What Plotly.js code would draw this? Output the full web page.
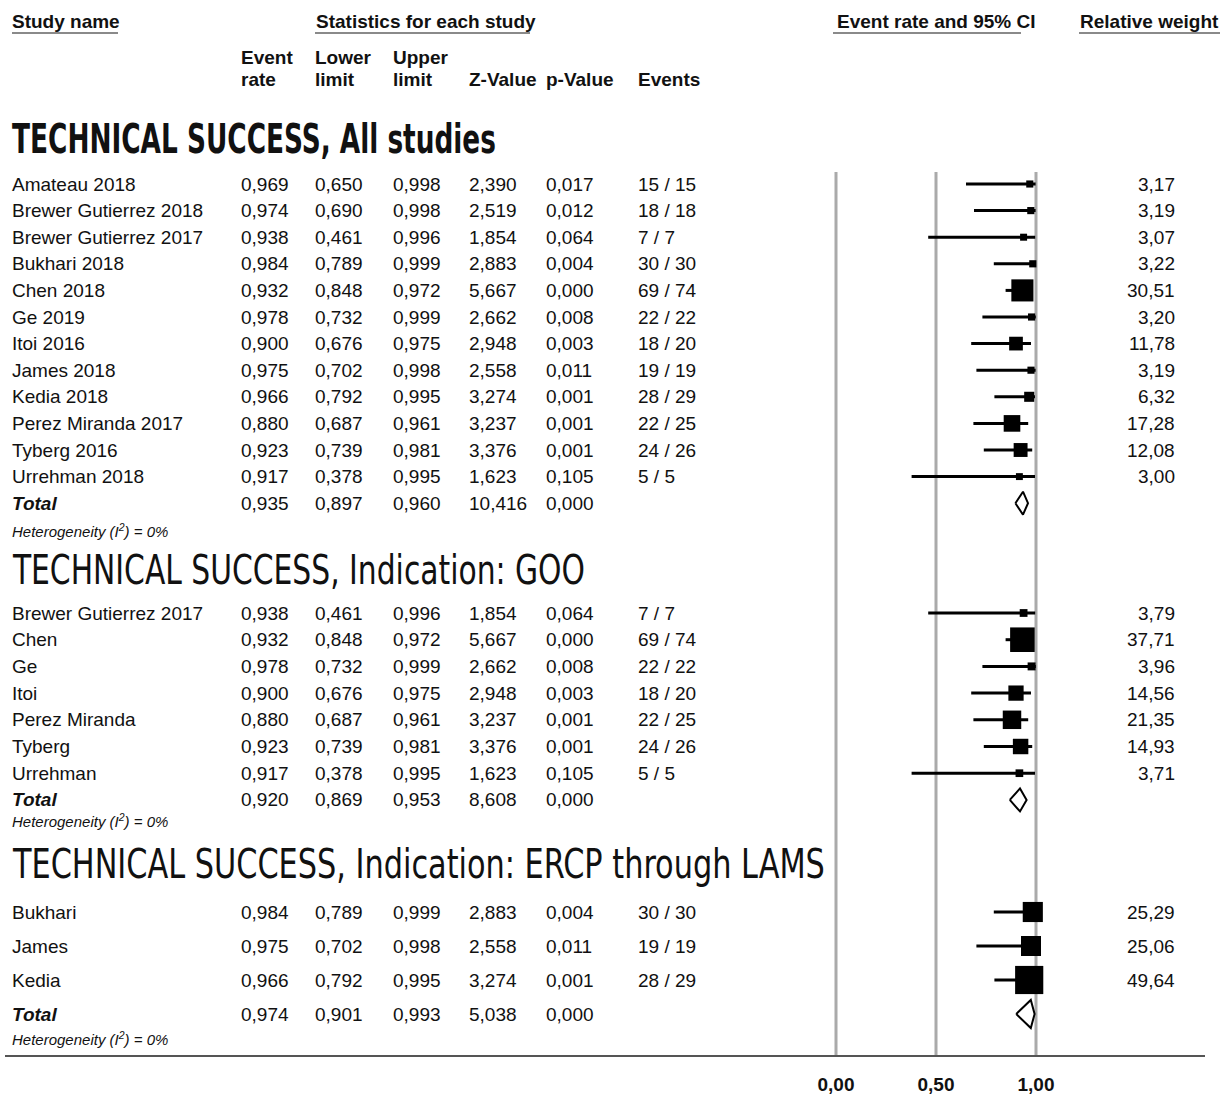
<!DOCTYPE html>
<html>
<head>
<meta charset="utf-8">
<script src="https://cdn.plot.ly/plotly-3.0.1.min.js"></script>
<style>html,body{margin:0;padding:0;background:#fff;}#chart{width:1223px;height:1096px;}</style>
</head>
<body>
<div id="chart"></div>
<script>
// ---------------- DATA ----------------
const sectionTitles = [
  "TECHNICAL SUCCESS, All studies",
  "TECHNICAL SUCCESS, Indication: GOO",
  "TECHNICAL SUCCESS, Indication: ERCP through LAMS"
];

const s1Names = ["Amateau 2018","Brewer Gutierrez 2018","Brewer Gutierrez 2017","Bukhari 2018","Chen 2018","Ge 2019","Itoi 2016","James 2018","Kedia 2018","Perez Miranda 2017","Tyberg 2016","Urrehman 2018"];
const s1Rate   = [0.969,0.974,0.938,0.984,0.932,0.978,0.900,0.975,0.966,0.880,0.923,0.917];
const s1Lower  = [0.650,0.690,0.461,0.789,0.848,0.732,0.676,0.702,0.792,0.687,0.739,0.378];
const s1Upper  = [0.998,0.998,0.996,0.999,0.972,0.999,0.975,0.998,0.995,0.961,0.981,0.995];
const s1Z      = [2.390,2.519,1.854,2.883,5.667,2.662,2.948,2.558,3.274,3.237,3.376,1.623];
const s1P      = [0.017,0.012,0.064,0.004,0.000,0.008,0.003,0.011,0.001,0.001,0.001,0.105];
const s1Events = ["15 / 15","18 / 18","7 / 7","30 / 30","69 / 74","22 / 22","18 / 20","19 / 19","28 / 29","22 / 25","24 / 26","5 / 5"];
const s1Weight = [3.17,3.19,3.07,3.22,30.51,3.20,11.78,3.19,6.32,17.28,12.08,3.00];

const s2Names = ["Brewer Gutierrez 2017","Chen","Ge","Itoi","Perez Miranda","Tyberg","Urrehman"];
const s2Rate   = [0.938,0.932,0.978,0.900,0.880,0.923,0.917];
const s2Lower  = [0.461,0.848,0.732,0.676,0.687,0.739,0.378];
const s2Upper  = [0.996,0.972,0.999,0.975,0.961,0.981,0.995];
const s2Z      = [1.854,5.667,2.662,2.948,3.237,3.376,1.623];
const s2P      = [0.064,0.000,0.008,0.003,0.001,0.001,0.105];
const s2Events = ["7 / 7","69 / 74","22 / 22","18 / 20","22 / 25","24 / 26","5 / 5"];
const s2Weight = [3.79,37.71,3.96,14.56,21.35,14.93,3.71];

const s3Names = ["Bukhari","James","Kedia"];
const s3Rate   = [0.984,0.975,0.966];
const s3Lower  = [0.789,0.702,0.792];
const s3Upper  = [0.999,0.998,0.995];
const s3Z      = [2.883,2.558,3.274];
const s3P      = [0.004,0.011,0.001];
const s3Events = ["30 / 30","19 / 19","28 / 29"];
const s3Weight = [25.29,25.06,49.64];

const totalRate  = [0.935,0.920,0.974];
const totalLower = [0.897,0.869,0.901];
const totalUpper = [0.960,0.953,0.993];
const totalZ     = [10.416,8.608,5.038];
const totalP     = [0.000,0.000,0.000];
const heterogeneity = ["0%","0%","0%"];

const tickValues = [0, 0.5, 1];
const tickLabels = ["0,00","0,50","1,00"];

// ---------------- LAYOUT GEOMETRY ----------------
const W = 1223, H = 1096, PLOT_BOTTOM = 1055;
const FONT = "Liberation Sans, Arial, Helvetica, sans-serif";
const TITLE_FONT = "DejaVu Sans Condensed, DejaVu Sans, sans-serif";

const sections = [
  {names:s1Names, rate:s1Rate, lo:s1Lower, up:s1Upper, z:s1Z, p:s1P, ev:s1Events, w:s1Weight,
   titleY:139, titleBold:true, titleWidth:484, start:184, step:26.6, hetGap:27, diamondH:11.5},
  {names:s2Names, rate:s2Rate, lo:s2Lower, up:s2Upper, z:s2Z, p:s2P, ev:s2Events, w:s2Weight,
   titleY:570, titleBold:false, titleWidth:573, start:613, step:26.7, hetGap:21, diamondH:11.5},
  {names:s3Names, rate:s3Rate, lo:s3Lower, up:s3Upper, z:s3Z, p:s3P, ev:s3Events, w:s3Weight,
   titleY:864, titleBold:false, titleWidth:813, start:912, step:34, hetGap:24, diamondH:14}
];

const COLS = {name:11, rate:240, lo:314, up:392, z:468, p:545, ev:637, weight:1176};

const fmt3 = v => v.toFixed(3).replace(".", ",");
const fmt2 = v => v.toFixed(2).replace(".", ",");

const annotations = [];
function txt(text, xp, yp, opt) {
  opt = opt || {};
  annotations.push({
    text: text, xref: "paper", x: xp / W, yref: "y", y: yp,
    xanchor: opt.anchor || "left", yanchor: "middle", showarrow: false,
    borderpad: 0,
    font: {family: opt.family || FONT, size: opt.size || 19, color: opt.color || "#111",
           weight: opt.weight || "normal", style: opt.style || "normal"}
  });
}

// Headers
txt("Study name", 11, 21, {weight: "bold"});
txt("Statistics for each study", 315, 21, {weight: "bold"});
txt("Event rate and 95% CI", 836, 21, {weight: "bold"});
txt("Relative weight", 1079, 21, {weight: "bold"});
txt("Event", COLS.rate, 57, {weight: "bold"});
txt("rate", COLS.rate, 79, {weight: "bold"});
txt("Lower", COLS.lo, 57, {weight: "bold"});
txt("limit", COLS.lo, 79, {weight: "bold"});
txt("Upper", COLS.up, 57, {weight: "bold"});
txt("limit", COLS.up, 79, {weight: "bold"});
txt("Z-Value", COLS.z, 79, {weight: "bold"});
txt("p-Value", COLS.p, 79, {weight: "bold"});
txt("Events", COLS.ev, 79, {weight: "bold"});

const shapes = [];
// header underlines
[[12,118],[315,530],[833,1021],[1079,1220]].forEach(function(seg){
  shapes.push({type:"line", xref:"paper", yref:"y", x0:seg[0]/W, x1:seg[1]/W, y0:33, y1:33,
               line:{color:"#8a8a8a", width:2}});
});
// reference lines at 0, 0.5, 1
tickValues.forEach(function(v){
  shapes.push({type:"line", xref:"x", yref:"y", x0:v, x1:v, y0:172, y1:PLOT_BOTTOM,
               line:{color:"#aaaaaa", width:3}, layer:"below"});
});

const traces = [];
sections.forEach(function(s, si){
  // title
  txt(sectionTitles[si], 11, s.titleY, {family: TITLE_FONT, size: 40,
      weight: s.titleBold ? "bold" : "normal", color: "#111"});
  const rows = s.names.map((_, i) => s.start + i * s.step);
  const totalY = s.start + s.names.length * s.step;
  // table rows
  s.names.forEach(function(n, i){
    const y = rows[i];
    txt(n, COLS.name, y);
    txt(fmt3(s.rate[i]), COLS.rate, y);
    txt(fmt3(s.lo[i]), COLS.lo, y);
    txt(fmt3(s.up[i]), COLS.up, y);
    txt(fmt3(s.z[i]), COLS.z, y);
    txt(fmt3(s.p[i]), COLS.p, y);
    txt(s.ev[i], COLS.ev, y);
    txt(fmt2(s.w[i]), COLS.weight, y, {anchor: "right"});
  });
  txt("<b><i>Total</i></b>", COLS.name, totalY);
  txt(fmt3(totalRate[si]), COLS.rate, totalY);
  txt(fmt3(totalLower[si]), COLS.lo, totalY);
  txt(fmt3(totalUpper[si]), COLS.up, totalY);
  txt(fmt3(totalZ[si]), COLS.z, totalY);
  txt(fmt3(totalP[si]), COLS.p, totalY);
  txt("<i>Heterogeneity (I<sup>2</sup>) = " + heterogeneity[si] + "</i>", COLS.name, totalY + s.hetGap,
      {size: 15});

  // CI lines
  const lx = [], ly = [];
  s.names.forEach(function(_, i){
    lx.push(s.lo[i], s.up[i], null);
    ly.push(rows[i], rows[i], null);
  });
  traces.push({type:"scatter", mode:"lines", x:lx, y:ly, hoverinfo:"skip",
               line:{color:"#000", width:3}, cliponaxis:false});
  // squares (area proportional to relative weight)
  traces.push({type:"scatter", mode:"markers", x:s.rate, y:rows, hoverinfo:"skip",
               marker:{symbol:"square", color:"#000", opacity:1, size:s.w.map(w => 4 * Math.sqrt(w)),
                       line:{width:0}}, cliponaxis:false});
  // diamond
  const h = s.diamondH;
  traces.push({type:"scatter", mode:"lines", hoverinfo:"skip",
               x:[totalLower[si], totalRate[si], totalUpper[si], totalRate[si], totalLower[si]],
               y:[totalY, totalY - h, totalY, totalY + h, totalY],
               fill:"toself", fillcolor:"#fff", line:{color:"#000", width:2}, cliponaxis:false});
});

const xLeftPx = 5, xRightPx = 1205, zeroPx = 836, unitPx = 200;
const layout = {
  width: W, height: H,
  margin: {l:0, r:0, t:0, b:H - PLOT_BOTTOM, pad:0},
  paper_bgcolor: "#fff", plot_bgcolor: "#fff",
  showlegend: false,
  xaxis: {
    domain: [xLeftPx / W, xRightPx / W],
    range: [(xLeftPx - zeroPx) / unitPx, (xRightPx - zeroPx) / unitPx],
    showgrid: false, zeroline: false, showline: true, linecolor: "#555", linewidth: 2,
    tickmode: "array", tickvals: tickValues, ticktext: tickLabels.map(t => "<b>" + t + "</b>"),
    ticks: "outside", ticklen: 11, tickcolor: "rgba(0,0,0,0)",
    tickfont: {family: FONT, size: 19, color: "#111"}, fixedrange: true
  },
  yaxis: {range: [PLOT_BOTTOM, 0], visible: false, fixedrange: true},
  annotations: annotations,
  shapes: shapes
};

Plotly.newPlot("chart", traces, layout, {staticPlot: true, displayModeBar: false}).then(function(gd){
  // condense the section titles horizontally to match the narrow display face
  gd.querySelectorAll(".annotation-text").forEach(function(el){
    const idx = sectionTitles.indexOf(el.textContent);
    if (idx < 0) return;
    const bb = el.getBBox();
    const s = sections[idx].titleWidth / bb.width;
    const prev = el.getAttribute("transform") || "";
    el.setAttribute("transform", prev + " translate(" + bb.x + ",0) scale(" + s + ",1) translate(" + (-bb.x) + ",0)");
  });
});
</script>
</body>
</html>
